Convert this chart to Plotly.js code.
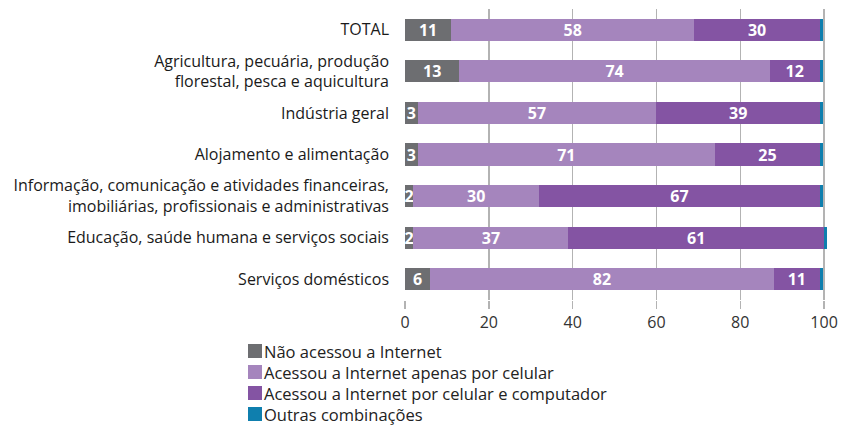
<!DOCTYPE html>
<html>
<head>
<meta charset="utf-8">
<script src="https://cdn.plot.ly/plotly-3.0.1.min.js"></script>
<style>
  html, body { margin: 0; padding: 0; background: #fff; }
  #chart { width: 842px; height: 425px; }
</style>
</head>
<body>
<div id="chart"></div>
<script>
const categories = [
  "TOTAL",
  "Agricultura, pecuária, produção<br>florestal, pesca e aquicultura",
  "Indústria geral",
  "Alojamento e alimentação",
  "Informação, comunicação e atividades financeiras,<br>imobiliárias, profissionais e administrativas",
  "Educação, saúde humana e serviços sociais",
  "Serviços domésticos"
];

const seriesNames = [
  "Não acessou a Internet",
  "Acessou a Internet apenas por celular",
  "Acessou a Internet por celular e computador",
  "Outras combinações"
];

const naoAcessou = [11, 13, 3, 3, 2, 2, 6];
const apenasCelular = [58, 74, 57, 71, 30, 37, 82];
const celularComputador = [30, 12, 39, 25, 67, 61, 11];
const outras = [0.8, 0.8, 0.8, 0.8, 0.8, 0.7, 0.8];

const colors = ["#6d6e71", "#a585bd", "#8454a3", "#0f7fae"];

function barTrace(name, values, color, showText) {
  return {
    type: "bar",
    orientation: "h",
    name: name,
    y: categories,
    x: values,
    marker: { color: color, line: { width: 0 } },
    text: showText ? values.map(v => String(v)) : null,
    textposition: showText ? "inside" : "none",
    insidetextanchor: "middle",
    textangle: 0,
    textfont: { family: "Open Sans", color: "#ffffff", size: 16, weight: "bold" },
    showlegend: false
  };
}

const traces = [
  barTrace(seriesNames[0], naoAcessou, colors[0], true),
  barTrace(seriesNames[1], apenasCelular, colors[1], true),
  barTrace(seriesNames[2], celularComputador, colors[2], true),
  barTrace(seriesNames[3], outras, colors[3], false)
];

// legend below the plot: a coloured swatch and a text line per series
const W = 842, H = 425;
const plotLeft = 405, plotRight = 827, plotTop = 9, plotBottom = 300;
const px2x = px => (px - plotLeft) / (plotRight - plotLeft);
const px2y = py => (plotBottom - py) / (plotBottom - plotTop);

const legendShapes = [];
const legendAnnotations = [];
seriesNames.forEach((name, i) => {
  const cy = 351 + i * 21;
  legendShapes.push({
    type: "rect",
    xref: "paper",
    yref: "paper",
    x0: px2x(248),
    x1: px2x(262),
    y0: px2y(cy + 7),
    y1: px2y(cy - 7),
    fillcolor: colors[i],
    line: { width: 0 }
  });
  legendAnnotations.push({
    xref: "paper",
    yref: "paper",
    x: px2x(263),
    xanchor: "left",
    y: px2y(cy),
    yanchor: "middle",
    showarrow: false,
    align: "left",
    borderpad: 0,
    text: name,
    font: { size: 16.5, color: "#222222" }
  });
});

Plotly.newPlot("chart", traces, {
  barmode: "stack",
  bargap: 0.47,
  width: W,
  height: H,
  paper_bgcolor: "#ffffff",
  plot_bgcolor: "#ffffff",
  margin: { l: plotLeft, r: W - plotRight, t: plotTop, b: H - plotBottom },
  font: { family: "Open Sans", color: "#333333", size: 16 },
  uniformtext: { mode: "show", minsize: 16 },
  xaxis: {
    range: [0, 100.7],
    tickvals: [0, 20, 40, 60, 80, 100],
    showgrid: true,
    gridcolor: "#b3b3b3",
    gridwidth: 1.5,
    zeroline: false,
    showline: false,
    ticks: "outside",
    ticklen: 8,
    tickwidth: 1.5,
    tickcolor: "#b3b3b3",
    tickfont: { size: 16, color: "#333333" },
    fixedrange: true
  },
  yaxis: {
    autorange: "reversed",
    showgrid: false,
    zeroline: false,
    showline: false,
    ticks: "",
    ticklabelstandoff: 15,
    tickfont: { size: 16, color: "#1a1a1a" },
    fixedrange: true
  },
  showlegend: false,
  shapes: legendShapes,
  annotations: legendAnnotations
}, {
  displayModeBar: false,
  staticPlot: true
});
</script>
</body>
</html>
